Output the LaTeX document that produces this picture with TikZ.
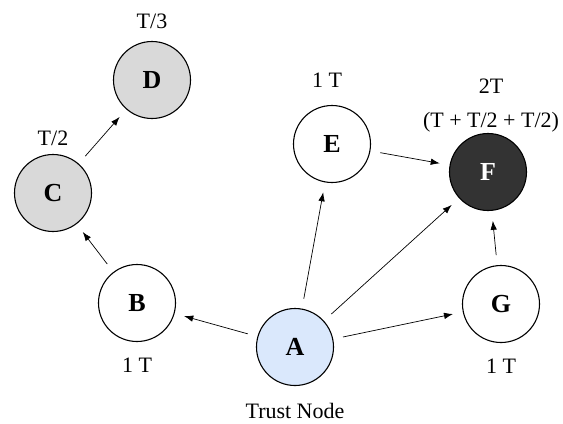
\documentclass[tikz,border=0pt]{standalone}
\usepackage{fontspec}
\setmainfont{Liberation Serif}
\definecolor{TrustBlue}{HTML}{DAE8FC}
\definecolor{PathGray}{HTML}{D9D9D9}
\definecolor{SinkDark}{HTML}{333333}
\usetikzlibrary{arrows.meta, positioning}

\begin{document}
\begin{tikzpicture}[x=1bp, y=-1bp, node distance=10bp, auto]
        \tikzstyle{circ} = [circle, draw, line width=1.1bp, fill=white,
            minimum size=77bp, inner sep=0pt, font=\fontsize{26bp}{30bp}\selectfont\bfseries]
        \tikzstyle{lbl} = [inner sep=0pt, text height=14bp, text depth=0pt,
            font=\fontsize{22bp}{26bp}\selectfont]
        \tikzstyle{line} = [draw, -{Latex[length=9bp, width=6.5bp]}, line width=0.7bp,
            shorten <=10bp, shorten >=10bp]

        \useasboundingbox (0,0) rectangle (563,423);

        \node [circ, fill=TrustBlue] (A) at (295,347) {A};
        \node [circ] (B) at (137,303) {B};
        \node [circ, fill=PathGray] (C) at (53,193) {C};
        \node [circ, fill=PathGray] (D) at (152,80) {D};
        \node [circ] (E) at (332,144) {E};
        \node [circ, fill=SinkDark, text=white] (F) at (488,172) {F};
        \node [circ] (G) at (501,304) {G};

        \node [lbl, above=12bp of D] (labD) {T/3};
        \node [lbl, above=8bp of C] (labC) {T/2};
        \node [lbl, above=17bp of E, xshift=-5bp] (labE) {1 T};
        \node [lbl, above=5bp of F, xshift=3bp] (labF) {(T + T/2 + T/2)};
        \node [lbl, above=20bp of labF] (labF2) {2T};
        \node [lbl, below=16bp of B] (labB) {1 T};
        \node [lbl, below=16bp of G] (labG) {1 T};
        \node [lbl, below=18bp of A] (labA) {Trust Node};

        \path [line] (A) -- (B);
        \path [line] (B) -- (C);
        \path [line] (C) -- (D);
        \path [line] (A) -- (E);
        \path [line] (A) -- (F);
        \path [line] (A) -- (G);
        \path [line] (E) -- (F);
        \path [line] (G) -- (F);
    \end{tikzpicture}
\end{document}
